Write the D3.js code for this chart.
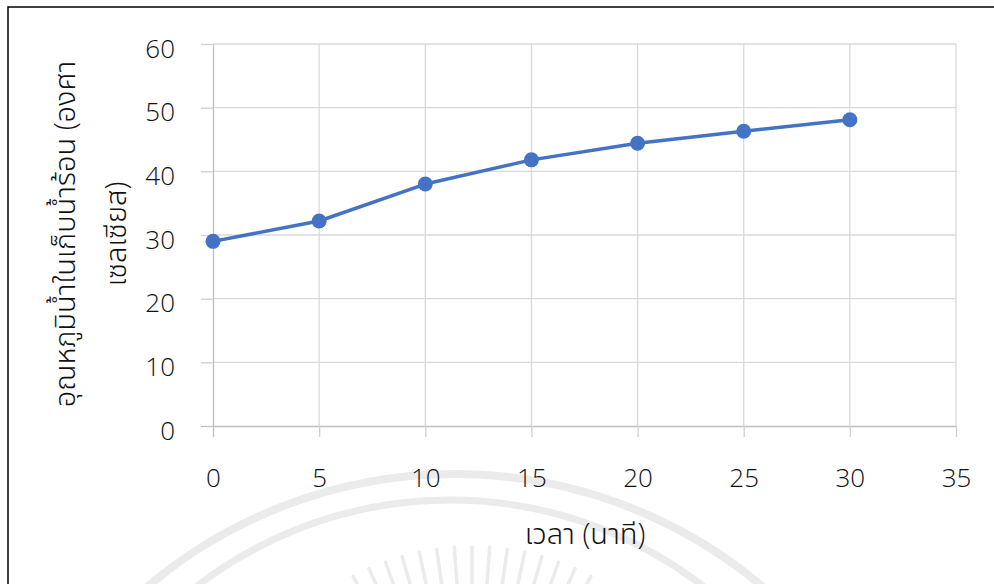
<!DOCTYPE html>
<html>
<head>
<meta charset="utf-8">
<script src="https://cdn.jsdelivr.net/npm/d3@7"></script>
<style>
  html, body { margin: 0; padding: 0; background: #ffffff; }
  svg { display: block; }
  text { font-family: "Open Sans", "Noto Sans Thai", "Noto Sans", sans-serif; font-weight: 300; fill: #111111; }
</style>
</head>
<body>
<svg id="chart" width="994" height="584"></svg>
<script>
// Hot-water tank temperature over time
const timeMinutes = [0, 5, 10, 15, 20, 25, 30];
const temperatureC = [29, 32.2, 38, 41.8, 44.4, 46.3, 48.1];
const xTicks = [0, 5, 10, 15, 20, 25, 30, 35];
const yTicks = [0, 10, 20, 30, 40, 50, 60];
const xTitle = "เวลา (นาที)";
const yTitleLines = ["อุณหภูมิน้ำในเก็บน้ำร้อน (องศา", "เซลเซียส)"];

const FONT = '"Open Sans", "Noto Sans Thai", "Noto Sans", sans-serif';
const svg = d3.select("#chart");

const plot = { left: 213, right: 956, top: 44, bottom: 426 };
const x = d3.scaleLinear().domain([0, 35]).range([plot.left, plot.right]);
const y = d3.scaleLinear().domain([0, 60]).range([plot.bottom, plot.top]);

// faint background emblem along the lower edge
const emblem = svg.append("g").attr("fill", "none").attr("stroke", "#ebebeb");
emblem.append("circle").attr("cx", 455).attr("cy", 950).attr("r", 476).attr("stroke-width", 8);
emblem.append("circle").attr("cx", 450).attr("cy", 914).attr("r", 414).attr("stroke-width", 7);
const rayCx = 472, rayCy = 800;
d3.range(-28, 29, 4).forEach(a => {
  const t = a * Math.PI / 180;
  emblem.append("line")
    .attr("x1", rayCx + 253 * Math.sin(t)).attr("y1", rayCy - 253 * Math.cos(t))
    .attr("x2", rayCx + 190 * Math.sin(t)).attr("y2", rayCy - 190 * Math.cos(t))
    .attr("stroke-width", 3.5).attr("stroke-linecap", "round");
});

// outer frame
svg.append("rect").attr("x", 8).attr("y", 7).attr("width", 1100).attr("height", 1100)
  .attr("fill", "none").attr("stroke", "#000").attr("stroke-width", 1.5);

// gridlines
const grid = svg.append("g");
grid.selectAll("line.h").data(yTicks.filter(d => d !== 0)).join("line")
  .attr("x1", plot.left).attr("x2", plot.right)
  .attr("y1", d => y(d)).attr("y2", d => y(d))
  .attr("stroke", "#d9d9d9").attr("stroke-width", 1.3);
grid.selectAll("line.v").data(xTicks.filter(d => d !== 0)).join("line")
  .attr("x1", d => x(d)).attr("x2", d => x(d))
  .attr("y1", plot.top).attr("y2", plot.bottom)
  .attr("stroke", "#d9d9d9").attr("stroke-width", 1.3);

// axes
const xAxis = svg.append("g").attr("transform", `translate(0,${plot.bottom})`)
  .call(d3.axisBottom(x).tickValues(xTicks).tickSize(11).tickPadding(31.5).tickSizeOuter(0));
const yAxis = svg.append("g").attr("transform", `translate(${plot.left},0)`)
  .call(d3.axisLeft(y).tickValues(yTicks).tickSize(12).tickPadding(26).tickSizeOuter(0));

[xAxis, yAxis].forEach(g => {
  g.select(".domain").attr("stroke", "#bfbfbf").attr("stroke-width", 1.3);
  g.selectAll(".tick line").attr("stroke", d => d === 0 ? "#bfbfbf" : "#d0d0d0").attr("stroke-width", 1.3);
  g.selectAll(".tick text").attr("font-size", 26).attr("fill", "#111111")
    .style("font-family", FONT).style("font-weight", 300);
});
yAxis.selectAll(".tick text").attr("dy", "0.5em");

// series line and markers
const line = d3.line().x((d, i) => x(timeMinutes[i])).y(d => y(d));
svg.append("path").datum(temperatureC)
  .attr("d", line).attr("fill", "none")
  .attr("stroke", "#4472C4").attr("stroke-width", 3.5)
  .attr("stroke-linejoin", "round").attr("stroke-linecap", "round");
svg.append("g").selectAll("circle").data(temperatureC).join("circle")
  .attr("cx", (d, i) => x(timeMinutes[i])).attr("cy", d => y(d))
  .attr("r", 7.5).attr("fill", "#4472C4");

// axis titles
svg.append("text").attr("x", 585).attr("y", 544)
  .attr("text-anchor", "middle").attr("font-size", 29).text(xTitle);

const yt = svg.append("text").attr("text-anchor", "middle").attr("font-size", 29)
  .attr("transform", "translate(75,234) rotate(-90)");
yTitleLines.forEach((t, i) => {
  yt.append("tspan").attr("x", 0).attr("y", i * 51).text(t);
});
</script>
</body>
</html>
